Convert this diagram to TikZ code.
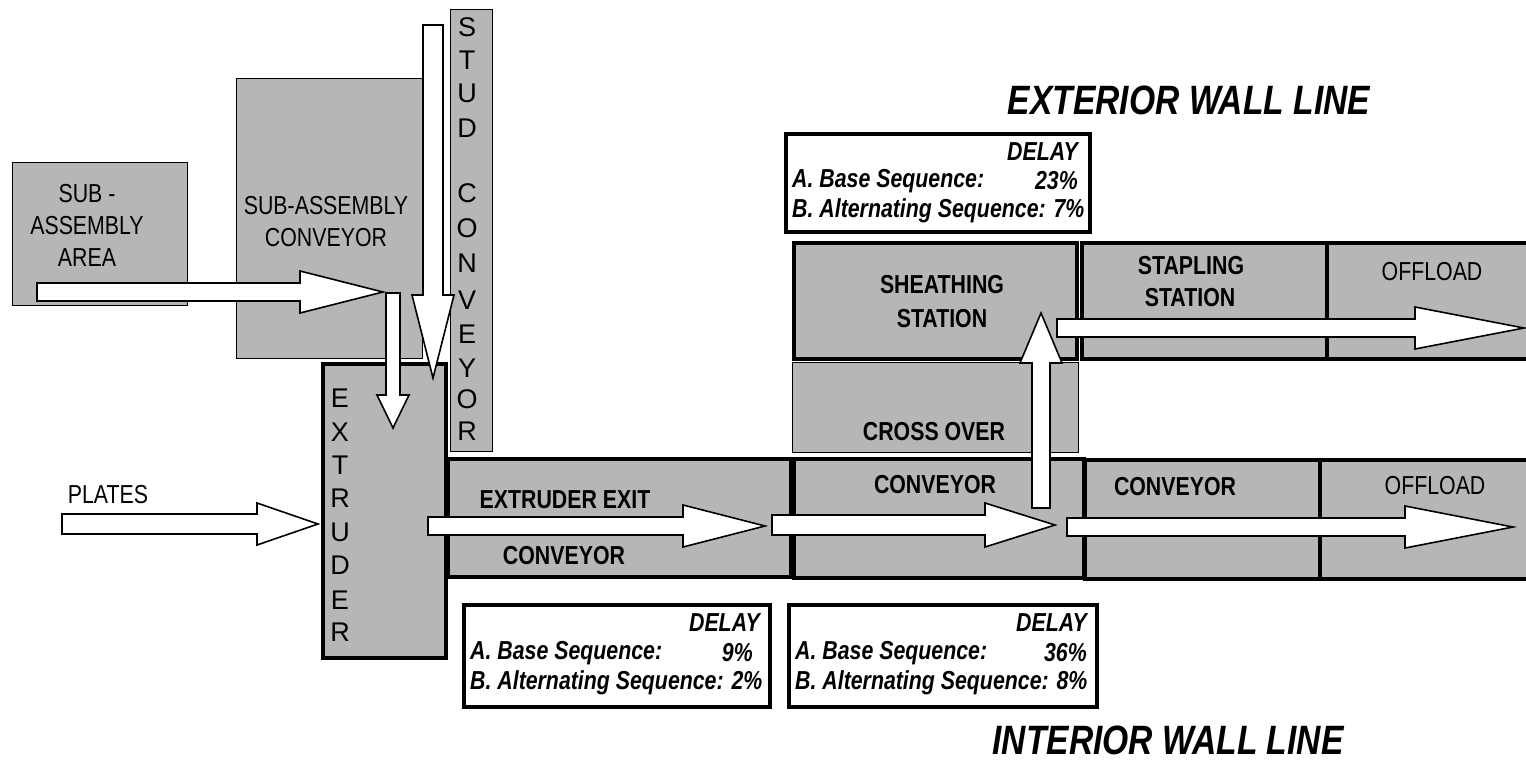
\documentclass[tikz,border=0pt]{standalone}
\usepackage{fontspec}
\setmainfont{Liberation Sans}
\newfontfamily\narrow[FakeStretch=0.82]{Liberation Sans}
\definecolor{boxgray}{RGB}{182,182,182}
\newcommand\myharr[6]{\draw[arr] (#1,{#4-#5}) -- (#2,{#4-#5}) -- (#2,{#4-#6}) -- (#3,#4) -- (#2,{#4+#6}) -- (#2,{#4+#5}) -- (#1,{#4+#5}) -- cycle;}
\newcommand\myvarr[6]{\draw[arr] ({#1-#5},#2) -- ({#1-#5},#3) -- ({#1-#6},#3) -- (#1,#4) -- ({#1+#6},#3) -- ({#1+#5},#3) -- ({#1+#5},#2) -- cycle;}
\tikzset{
  thinbox/.style={draw=black, line width=1.2pt, fill=boxgray, inner sep=0pt, anchor=north west},
  thickbox/.style={draw=black, line width=3.5pt, fill=boxgray, inner sep=0pt, anchor=north west},
  delaybox/.style={draw=black, line width=3.5pt, fill=white, inner sep=0pt, anchor=north west},
  arr/.style={draw=black, line width=1.6pt, fill=white, line join=miter},
  lab/.style={font=\narrow\fontsize{26}{32}\selectfont, inner sep=0pt, align=center},
  blab/.style={font=\narrow\bfseries\fontsize{26}{34}\selectfont, inner sep=0pt, align=center},
  vlet/.style={font=\fontsize{27}{27}\selectfont, inner sep=0pt},
  dtxt/.style={font=\narrow\bfseries\itshape\fontsize{26}{30}\selectfont, inner sep=0pt},
  ttl/.style={font=\narrow\bfseries\itshape\fontsize{41}{41}\selectfont, inner sep=0pt}
}
\begin{document}
\begin{tikzpicture}[x=1pt,y=-1pt]
\useasboundingbox[fill=white] (0,0) rectangle (1526,763);

% boxes
\node[thinbox, minimum width=186pt, minimum height=280pt] (subconv) at (236,78) {};
\node[thinbox, minimum width=175pt, minimum height=143pt] (subarea) at (12,162) {};
\node[thinbox, minimum width=42pt, minimum height=442pt] (stud) at (450,9) {};
\node[thickbox, minimum width=123pt, minimum height=294pt] (extruder) at (321,362) {};
\node[thinbox, minimum width=286pt, minimum height=90pt] (crossover) at (792,362) {};
\node[thickbox, minimum width=283pt, minimum height=116pt] (sheathing) at (792,241) {};
\node[thickbox, minimum width=245pt, minimum height=116pt] (stapling) at (1080,241) {};
\node[thickbox, minimum width=215pt, minimum height=116pt] (offloadA) at (1325,241) {};
\node[thickbox, minimum width=343pt, minimum height=118pt] (exitconv) at (446,457) {};
\node[thickbox, minimum width=290pt, minimum height=119pt] (conv2) at (792,457) {};
\node[thickbox, minimum width=235pt, minimum height=119pt] (conv3) at (1083,458) {};
\node[thickbox, minimum width=222pt, minimum height=119pt] (offloadB) at (1318,458) {};
\node[delaybox, minimum width=304pt, minimum height=98pt] (delayT) at (784,132) {};
\node[delaybox, minimum width=306pt, minimum height=102pt] (delay1) at (462,603) {};
\node[delaybox, minimum width=308pt, minimum height=102pt] (delay2) at (787,603) {};

% block arrows
\myharr{37}{300}{383}{292}{9}{21}
\myvarr{433}{25}{295}{378}{10}{21}
\myvarr{393}{293}{395}{428}{7}{16}
\myharr{62}{257}{318}{524}{10}{21}
\myharr{428}{683}{765}{526}{9}{21}
\myharr{772}{985}{1055}{525}{10}{22}
\myvarr{1041}{508}{363}{313}{9}{21}
\myharr{1057}{1415}{1524}{328}{9}{21}
\myharr{1067}{1405}{1513}{527}{9}{21}

% labels
\node[lab] (subareaT) at (87,225) {SUB -\\ASSEMBLY\\AREA};
\node[lab] (subconvT) at (326,222) {SUB-ASSEMBLY\\CONVEYOR};
\foreach[count=\i] \l/\yy in {S/27,T/60,U/93,D/128,C/193,O/228,N/263,V/300,E/334,Y/368,O/399,R/431}
  \node[vlet] (studL\i) at (467,\yy) {\l};
\foreach[count=\i] \l/\yy in {E/398,X/432,T/465,R/498,U/532,D/565,E/600,R/632}
  \node[vlet] (extL\i) at (340,\yy) {\l};
\node[lab] (platesT) at (108,495) {PLATES};
\node[blab] (exitT1) at (565,500) {EXTRUDER EXIT};
\node[blab] (exitT2) at (564,556) {CONVEYOR};
\node[blab] (conv2T) at (935,485) {CONVEYOR};
\node[blab] (crossT) at (934,432) {CROSS OVER};
\node[blab] (sheathT) at (942,302) {SHEATHING\\STATION};
\node[blab] (staplT1) at (1191,266) {STAPLING};
\node[blab] (staplT2) at (1190,298) {STATION};
\node[lab] (offAT) at (1432,272) {OFFLOAD};
\node[blab] (conv3T) at (1175,487) {CONVEYOR};
\node[lab] (offBT) at (1435,486) {OFFLOAD};
\node[ttl] (extT) at (1189,100) {EXTERIOR WALL LINE};
\node[ttl] (intT) at (1168,740) {INTERIOR WALL LINE};

% delay texts
\node[dtxt, anchor=east] (dTd) at (1078,152) {DELAY};
\node[dtxt, anchor=west] (dTa) at (792,181) {A. Base Sequence:};
\node[dtxt, anchor=east] (dTav) at (1078,181) {23\%};
\node[dtxt, anchor=west] (dTb) at (792,211) {B. Alternating Sequence: 7\%};

\node[dtxt, anchor=east] (d1d) at (760,623) {DELAY};
\node[dtxt, anchor=west] (d1a) at (470,653) {A. Base Sequence:};
\node[dtxt, anchor=east] (d1av) at (753,653) {9\%};
\node[dtxt, anchor=west] (d1b) at (470,683) {B. Alternating Sequence: 2\%};

\node[dtxt, anchor=east] (d2d) at (1087,623) {DELAY};
\node[dtxt, anchor=west] (d2a) at (795,653) {A. Base Sequence:};
\node[dtxt, anchor=east] (d2av) at (1087,653) {36\%};
\node[dtxt, anchor=west] (d2b) at (795,683) {B. Alternating Sequence: 8\%};
\end{tikzpicture}
\end{document}
